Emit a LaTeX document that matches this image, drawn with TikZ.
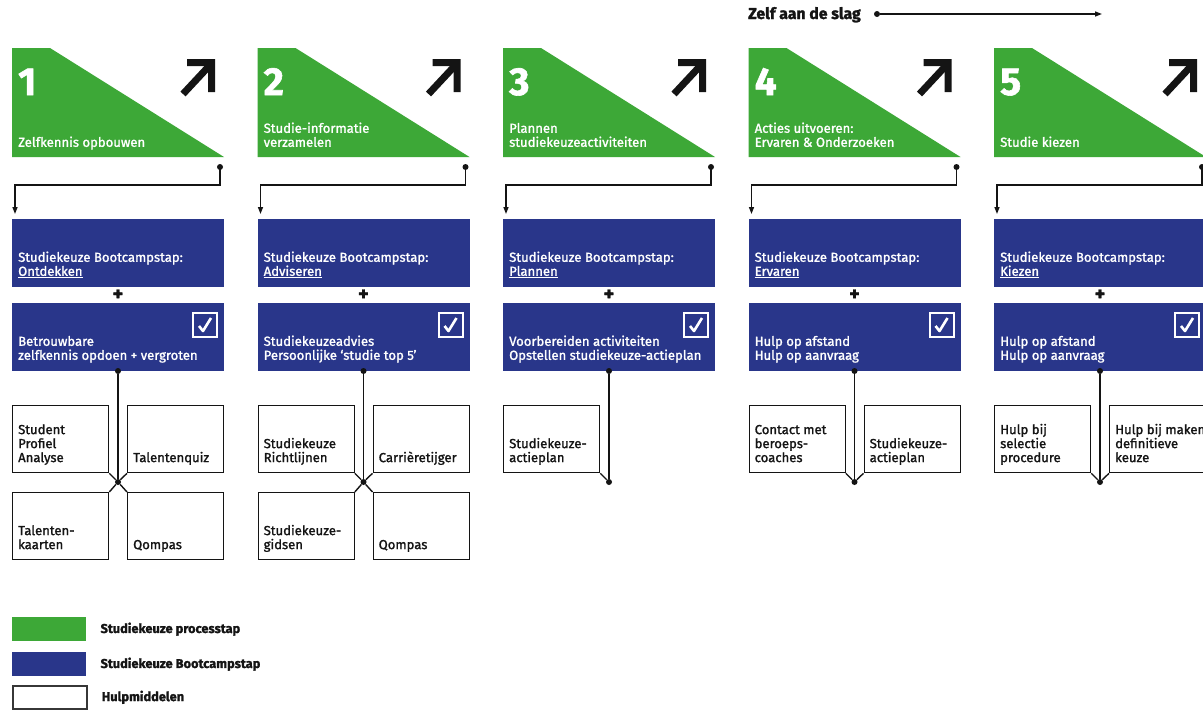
\documentclass[tikz,border=0pt]{standalone}
\usepackage{fontspec}
\setmainfont{Fira Sans}
\newfontfamily\medfont[FakeBold=1.4]{Fira Sans}
\newfontfamily\heavyfont[BoldFeatures={FakeBold=1.5}]{Fira Sans}
\usetikzlibrary{arrows.meta}
\definecolor{skGreen}{RGB}{61,168,55}
\definecolor{skBlue}{RGB}{41,54,138}
\definecolor{skInk}{RGB}{20,20,20}

% One process column: green step, corner arrow, two bootcamp boxes.
\newcommand{\skpanel}[5]{%
  \begin{scope}[shift={(#1,0)}]
    \fill[skGreen] (12,48) -- (50,48) -- (224,157) -- (12,157) -- cycle;
    \node[num] (num#2) at (18,95) {#2};
    \node[ttl] (ttl#2) at (18,147) {#3};
    \draw[skInk, line width=7pt] (183,94) -- (211,64);
    \fill[skInk] (187,59) -- (215,59) -- (215,92) -- (208,92) -- (208,66) -- (187,66) -- cycle;
    \node[dot] (gd#2) at (220,167) {};
    \node[camp] (ca#2) at (12,219) {};
    \node[ttl] (cat#2) at (18,276) {Studiekeuze Bootcampstap:\\\underline{#4}};
    \node[plus] (pl#2) at (118,295) {+};
    \node[camp] (cb#2) at (12,303) {};
    \node[ttl] (cbt#2) at (18,360) {#5};
    \node[chk] (ck#2) at (205,325) {};
    \draw[white, line width=2.6pt, line join=round]
      ([shift={(-6,1)}]ck#2.center) -- ([shift={(-2,6)}]ck#2.center) -- ([shift={(6,-7)}]ck#2.center);
    \node[dot] (bd#2) at (118,371) {};
    \draw[flow] (gd#2.center) -- ++(0,18) -| ([shift={(3,-5)}]ca#2.north west);
  \end{scope}}

\begin{document}
\begin{tikzpicture}[
  x=1pt, y=-1pt, font=\medfont\fontsize{13.1}{14}\selectfont,
  num/.style={text=white, font=\heavyfont\bfseries\fontsize{39}{39}\selectfont, anchor=base west, inner sep=0pt},
  ttl/.style={text=white, anchor=south west, align=left, inner sep=0pt, text depth=0pt},
  camp/.style={fill=skBlue, anchor=north west, inner sep=0pt, minimum width=212pt, minimum height=68pt},
  tool/.style={draw=skInk, line width=1.3pt, fill=white, anchor=north west, inner sep=0pt,
               minimum width=96pt, minimum height=67pt},
  tooltxt/.style={text=skInk, anchor=south west, align=left, inner sep=0pt, text depth=0pt},
  chk/.style={draw=white, line width=2pt, inner sep=0pt, minimum size=24pt},
  dot/.style={circle, fill=skInk, inner sep=0pt, minimum size=6pt},
  plus/.style={font=\heavyfont\bfseries\fontsize{20}{20}\selectfont, text=skInk, inner sep=0pt},
  link/.style={draw=skInk, line width=1.4pt},
  flow/.style={link, -{Triangle[length=7pt,width=5pt]}},
  swatch/.style={fill=#1, anchor=north west, inner sep=0pt, minimum width=74pt, minimum height=24pt},
  lgd/.style={font=\heavyfont\bfseries\fontsize{12.8}{14}\selectfont, text=skInk, anchor=west, inner sep=0pt},
]
\fill[white] (0,0) rectangle (1203,710);
\useasboundingbox (0,0) rectangle (1203,710);

% heading arrow
\node[font=\heavyfont\bfseries\fontsize{15.8}{17}\selectfont, text=skInk, anchor=base west, inner sep=0pt]
  (zelf) at (748,19) {Zelf aan de slag};
\node[dot] (zs) at (877,14) {};
\coordinate (ze) at (1102,14);
\draw[flow] (zs) -- (ze);

\skpanel{0}{1}{Zelfkennis opbouwen}{Ontdekken}{Betrouwbare\\zelfkennis opdoen + vergroten}
\skpanel{245.5}{2}{Studie-informatie\\verzamelen}{Adviseren}{Studiekeuzeadvies\\Persoonlijke ‘studie top 5’}
\skpanel{491}{3}{Plannen\\studiekeuzeactiviteiten}{Plannen}{Voorbereiden activiteiten\\Opstellen studiekeuze-actieplan}
\skpanel{736.5}{4}{Acties uitvoeren:\\Ervaren \& Onderzoeken}{Ervaren}{Hulp op afstand\\Hulp op aanvraag}
\skpanel{982}{5}{Studie kiezen}{Kiezen}{Hulp op afstand\\Hulp op aanvraag}

% ---------------- 1. hulpmiddelen ----------------
\begin{scope}[shift={(0,0)}]
  \node[tool] (h1a) at (12,405) {};
  \node[tool] (h1b) at (127,405) {};
  \node[tool] (h1c) at (12,492) {};
  \node[tool] (h1d) at (127,492) {};
  \node[tooltxt] at ([shift={(6,-11)}]h1a.south west) {Student\\Profiel\\Analyse};
  \node[tooltxt] at ([shift={(6,-11)}]h1b.south west) {Talentenquiz};
  \node[tooltxt] at ([shift={(6,-11)}]h1c.south west) {Talenten-\\kaarten};
  \node[tooltxt] at ([shift={(6,-11)}]h1d.south west) {Qompas};
  \node[dot] (j1) at (118,482) {};
  \draw[link] (bd1) -- (j1);
  \draw[link] (h1a.south east) -- (j1) -- (h1d.north west);
  \draw[link] (h1b.south west) -- (j1) -- (h1c.north east);
\end{scope}

% ---------------- 2. hulpmiddelen ----------------
\begin{scope}[shift={(245.5,0)}]
  \node[tool] (h2a) at (12,405) {};
  \node[tool] (h2b) at (127,405) {};
  \node[tool] (h2c) at (12,492) {};
  \node[tool] (h2d) at (127,492) {};
  \node[tooltxt] at ([shift={(6,-11)}]h2a.south west) {Studiekeuze\\Richtlijnen};
  \node[tooltxt] at ([shift={(6,-11)}]h2b.south west) {Carrièretijger};
  \node[tooltxt] at ([shift={(6,-11)}]h2c.south west) {Studiekeuze-\\gidsen};
  \node[tooltxt] at ([shift={(6,-11)}]h2d.south west) {Qompas};
  \node[dot] (j2) at (118,482) {};
  \draw[link] (bd2) -- (j2);
  \draw[link] (h2a.south east) -- (j2) -- (h2d.north west);
  \draw[link] (h2b.south west) -- (j2) -- (h2c.north east);
\end{scope}

% ---------------- 3. hulpmiddelen ----------------
\begin{scope}[shift={(491,0)}]
  \node[tool] (h3a) at (12,405) {};
  \node[tooltxt] at ([shift={(6,-11)}]h3a.south west) {Studiekeuze-\\actieplan};
  \node[dot] (j3) at (118,482) {};
  \draw[link] (bd3) -- (j3);
  \draw[link] (h3a.south east) -- (j3);
\end{scope}

% ---------------- 4. hulpmiddelen ----------------
\begin{scope}[shift={(736.5,0)}]
  \node[tool] (h4a) at (12,405) {};
  \node[tool] (h4b) at (127,405) {};
  \node[tooltxt] at ([shift={(6,-11)}]h4a.south west) {Contact met\\beroeps-\\coaches};
  \node[tooltxt] at ([shift={(6,-11)}]h4b.south west) {Studiekeuze-\\actieplan};
  \node[dot] (j4) at (118,482) {};
  \draw[link] (bd4) -- (j4);
  \draw[link] (h4a.south east) -- (j4) -- (h4b.south west);
\end{scope}

% ---------------- 5. hulpmiddelen ----------------
\begin{scope}[shift={(982,0)}]
  \node[tool] (h5a) at (12,405) {};
  \node[tool] (h5b) at (127,405) {};
  \node[tooltxt] at ([shift={(6,-11)}]h5a.south west) {Hulp bij\\selectie\\procedure};
  \node[tooltxt] at ([shift={(6,-11)}]h5b.south west) {Hulp bij maken\\definitieve\\keuze};
  \node[dot] (j5) at (118,482) {};
  \draw[link] (bd5) -- (j5);
  \draw[link] (h5a.south east) -- (j5) -- (h5b.south west);
\end{scope}

% legend
\node[swatch=skGreen] (lg1) at (12,617) {};
\node[swatch=skBlue] (lg2) at (12,652) {};
\node[swatch=white, draw=skInk!85, line width=1.6pt, minimum height=23pt] (lg3) at (12,685) {};
\node[lgd] at ([xshift=14]lg1.east) {Studiekeuze processtap};
\node[lgd] at ([xshift=14]lg2.east) {Studiekeuze Bootcampstap};
\node[lgd] at ([xshift=14]lg3.east) {Hulpmiddelen};
\end{tikzpicture}
\end{document}
